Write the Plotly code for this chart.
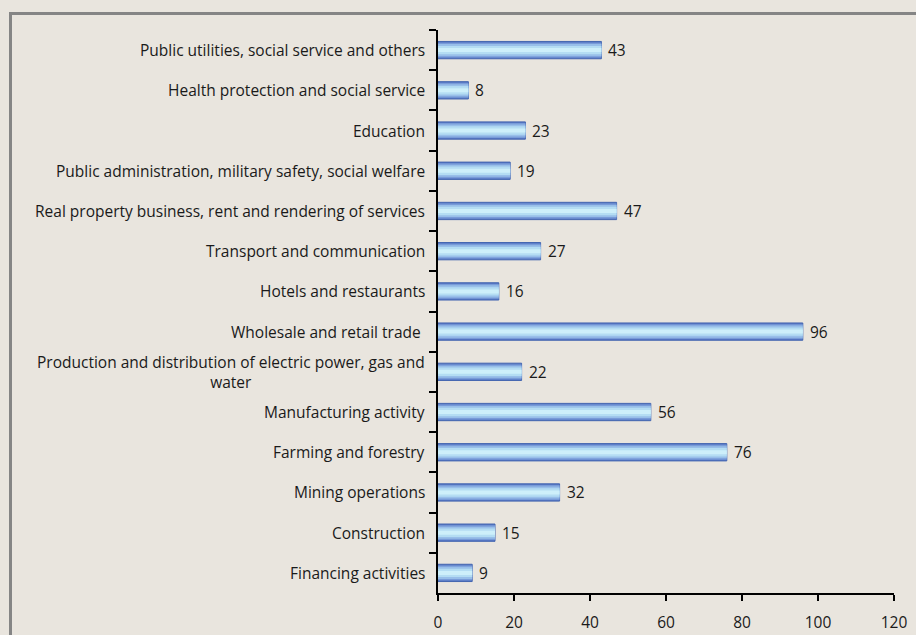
import plotly.graph_objects as go

# Industry categories, listed top to bottom
categories = [
    "Public utilities, social service and others",
    "Health protection and social service",
    "Education",
    "Public administration, military safety, social welfare",
    "Real property business, rent and rendering of services",
    "Transport and communication",
    "Hotels and restaurants",
    "Wholesale and retail trade ",
    "Production and distribution of electric power, gas and<br>water",
    "Manufacturing activity",
    "Farming and forestry",
    "Mining operations",
    "Construction",
    "Financing activities",
]
values = [43, 8, 23, 19, 47, 27, 16, 96, 22, 56, 76, 32, 15, 9]
x_ticks = [0, 20, 40, 60, 80, 100, 120]

W, H = 916, 635
ML, MR, MT, MB = 438, 22, 30, 42
BG = "#E9E5DE"
FONT = "Open Sans"
FS = 15.5

fig = go.Figure()

# Stacked overlay layers give each bar a banded blue-to-cyan shading
layers = [
    (0.43, "#5878C4", dict(color="#4466B0", width=1)),
    (0.37, "#789BD8", None),
    (0.30, "#98BFE9", None),
    (0.21, "#B4DDF3", None),
    (0.10, "#CDEFFA", None),
]
for width, color, line in layers:
    marker = dict(color=color)
    marker["line"] = line if line else dict(width=0)
    fig.add_trace(go.Bar(
        x=values, y=categories, orientation="h",
        width=width, marker=marker, hoverinfo="skip", showlegend=False,
    ))

annotations = []
# Value labels just past the end of each bar
for cat, v in zip(categories, values):
    annotations.append(dict(
        x=v, y=cat, xref="x", yref="y", text=str(v), showarrow=False,
        xanchor="left", yanchor="middle", xshift=5,
        font=dict(family=FONT, size=FS, color="#1A1A1A"),
    ))
# Category labels, centre-aligned within their box for wrapped text
for cat in categories:
    annotations.append(dict(
        x=0, y=cat, xref="paper", yref="y", text=cat, showarrow=False,
        xanchor="right", yanchor="middle", xshift=-11, align="center",
        font=dict(family=FONT, size=FS, color="#1A1A1A"),
    ))

border = "#858585"
shapes = [
    dict(type="line", xref="paper", yref="paper", xsizemode="pixel", ysizemode="pixel",
         xanchor=0, yanchor=1, x0=10.5 - ML, x1=10.5 - ML, y0=MT - 13.5, y1=-(H - MT + 10),
         line=dict(color=border, width=3), layer="above"),
    dict(type="line", xref="paper", yref="paper", xsizemode="pixel", ysizemode="pixel",
         xanchor=0, yanchor=1, x0=9 - ML, x1=W - ML + 10, y0=MT - 13.5, y1=MT - 13.5,
         line=dict(color=border, width=3), layer="above"),
]

fig.update_layout(
    width=W, height=H,
    margin=dict(l=ML, r=MR, t=MT, b=MB, pad=0, autoexpand=False),
    paper_bgcolor=BG, plot_bgcolor=BG,
    barmode="overlay",
    annotations=annotations,
    shapes=shapes,
    font=dict(family=FONT, size=FS, color="#1A1A1A"),
    xaxis=dict(
        range=[0, 120], tickvals=x_ticks, ticktext=[str(t) for t in x_ticks],
        showgrid=False, zeroline=False, automargin=False,
        showline=True, linecolor="black", linewidth=2,
        ticks="outside", ticklen=6, tickwidth=2, tickcolor="black",
        ticklabelstandoff=8,
        tickfont=dict(family=FONT, size=FS, color="#1A1A1A"),
        fixedrange=True,
    ),
    yaxis=dict(
        type="category", categoryorder="array", categoryarray=categories,
        range=[len(categories) - 0.5, -0.5], automargin=False,
        showticklabels=False, showgrid=False, zeroline=False,
        showline=True, linecolor="black", linewidth=2,
        ticks="outside", tickson="boundaries", ticklen=7, tickwidth=2, tickcolor="black",
        fixedrange=True,
    ),
)

fig.write_html("out.html")
